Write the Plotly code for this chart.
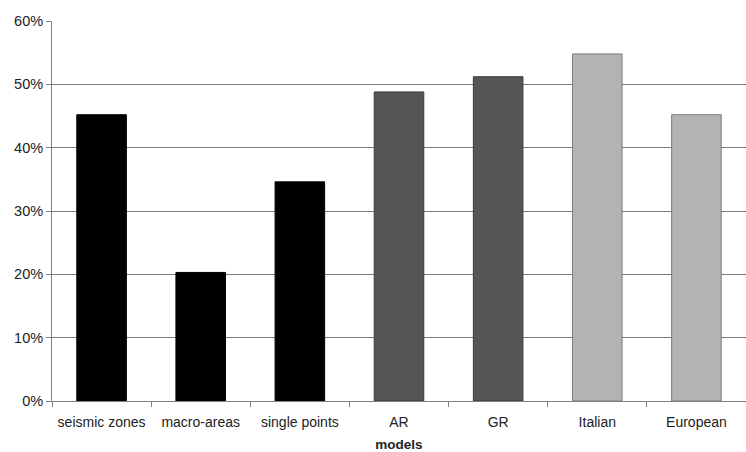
import plotly.graph_objects as go

# Share of correct estimates per model
models = ["seismic zones", "macro-areas", "single points", "AR", "GR", "Italian", "European"]
shares = [0.452, 0.203, 0.346, 0.488, 0.512, 0.548, 0.452]
fill_colors = ["#000000", "#000000", "#000000", "#555555", "#555555", "#b3b3b3", "#b3b3b3"]
edge_colors = ["#000000", "#000000", "#000000", "#3a3a3a", "#3a3a3a", "#7c7c7c", "#7c7c7c"]
y_ticks = [0, 0.1, 0.2, 0.3, 0.4, 0.5, 0.6]

fig = go.Figure(
    go.Bar(
        x=models,
        y=shares,
        width=0.5,
        marker=dict(color=fill_colors, line=dict(color=edge_colors, width=1)),
    )
)

font = dict(family="Liberation Sans, Arial, sans-serif", size=14, color="#222222")

fig.update_layout(
    width=746,
    height=452,
    margin=dict(l=52, r=0, t=21, b=51),
    paper_bgcolor="white",
    plot_bgcolor="white",
    font=font,
    showlegend=False,
    bargap=0.5,
)

fig.update_xaxes(
    type="category",
    automargin=False,
    showline=True,
    linecolor="#808080",
    linewidth=1,
    ticks="outside",
    tickson="boundaries",
    ticklen=5,
    tickcolor="#808080",
    ticklabelstandoff=8,
    showgrid=False,
    title=dict(text="<b>models</b>", font=dict(size=13.5, color="#222222"), standoff=12),
)

fig.update_yaxes(
    range=[0, 0.6],
    automargin=False,
    tickvals=y_ticks,
    tickformat=".0%",
    tickfont=dict(size=14.5),
    showline=True,
    linecolor="#808080",
    linewidth=1,
    ticks="outside",
    ticklen=5,
    tickcolor="#808080",
    showgrid=True,
    gridcolor="#7a7a7a",
    gridwidth=1,
    zeroline=False,
)

fig.write_html("out.html")
